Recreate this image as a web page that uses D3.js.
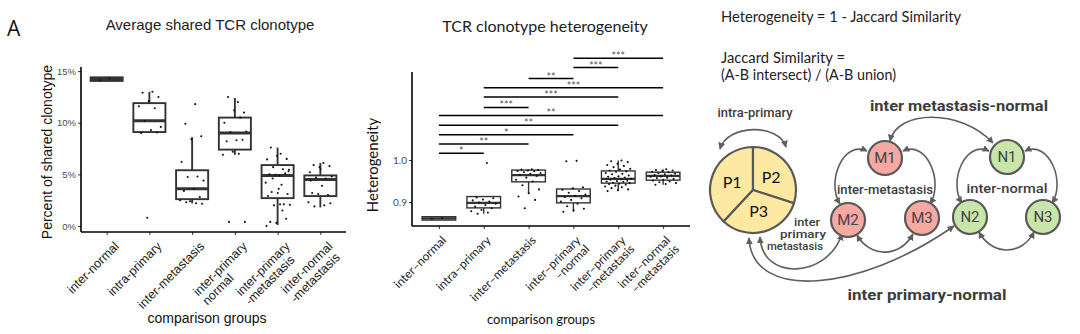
<!DOCTYPE html>
<html>
<head>
<meta charset="utf-8">
<script src="https://cdn.jsdelivr.net/npm/d3@7"></script>
<style>
  body { margin: 0; background: #fff; }
  svg { display: block; }
</style>
</head>
<body>
<svg id="fig" width="1080" height="334"></svg>
<script>
// ---------- Panel 1: average shared TCR clonotype (percent) ----------
const sharedGroups = ["inter-normal", "intra-primary", "inter-metastasis",
  "inter-primary\nnormal", "inter-primary\n-metastasis", "inter-normal\n-metastasis"];
const sharedLow    = [14.0, 9.0, 2.2, 6.9, 0.1, 1.8];
const sharedQ1     = [14.05, 9.1, 2.6, 7.4, 2.7, 2.9];
const sharedMedian = [14.2, 10.2, 3.6, 9.0, 4.9, 4.5];
const sharedQ3     = [14.4, 11.9, 5.4, 10.5, 5.9, 4.9];
const sharedHigh   = [14.45, 13.0, 8.6, 12.4, 7.6, 6.1];
const sharedPoints = [
  [14.3, 14.1],
  [13.0, 12.9, 12.5, 12.1, 11.6, 11.4, 10.2, 9.6, 9.3, 9.0, 9.05, 0.8],
  [11.8, 9.9, 8.7, 8.4, 6.2, 4.8, 4.75, 4.4, 3.6, 3.4, 2.8, 2.4, 2.5, 2.2, 2.3, 2.15],
  [12.0, 12.5, 11.0, 11.2, 10.0, 10.5, 9.1, 9.15, 8.3, 8.2, 8.35, 7.2, 6.9, 7.0, 0.4, 0.4],
  [7.0, 7.6, 6.5, 6.8, 6.45, 5.5, 5.7, 5.45, 4.9, 5.0, 5.1, 4.95, 4.2, 4.0, 3.3, 3.1,
   3.2, 2.9, 2.1, 2.0, 2.05, 2.1, 0.4, 0.7, 0.3, 0.0, 1.5, 4.6, 5.3, 3.6],
  [6.1, 5.9, 5.8, 5.7, 5.2, 4.6, 4.7, 4.8, 3.9, 3.2, 3.0, 3.1, 2.3, 2.0, 1.9, 2.2, 5.5, 4.4]
];
const sharedTicks = [0, 5, 10, 15];

// ---------- Panel 2: TCR clonotype heterogeneity ----------
const hetGroups = ["inter\u2013normal", "intra\u2013primary", "inter\u2013metastasis",
  "inter\u2013primary\n\u2013normal", "inter\u2013primary\n\u2013metastasis", "inter\u2013normal\n\u2013metastasis"];
const hetLow    = [0.857, 0.872, 0.921, 0.877, 0.926, 0.941];
const hetQ1     = [0.857, 0.886, 0.948, 0.898, 0.945, 0.952];
const hetMedian = [0.861, 0.898, 0.964, 0.914, 0.955, 0.962];
const hetQ3     = [0.865, 0.913, 0.976, 0.931, 0.974, 0.971];
const hetHigh   = [0.865, 0.913, 0.978, 0.935, 0.999, 0.978];
const hetPoints = [
  [0.862, 0.860],
  [0.993, 0.911, 0.909, 0.906, 0.904, 0.901, 0.899, 0.896, 0.893, 0.889, 0.885, 0.881, 0.878, 0.875, 0.872],
  [0.978, 0.977, 0.976, 0.975, 0.974, 0.973, 0.971, 0.969, 0.967, 0.965, 0.962, 0.958,
   0.953, 0.949, 0.940, 0.930, 0.921, 0.913, 0.905, 0.885],
  [0.998, 0.997, 0.935, 0.932, 0.929, 0.926, 0.922, 0.918, 0.915, 0.912, 0.909, 0.905,
   0.901, 0.896, 0.890, 0.884, 0.880, 0.877],
  [0.999, 0.997, 0.995, 0.991, 0.988, 0.986, 0.983, 0.979, 0.977, 0.975, 0.973, 0.972,
   0.969, 0.967, 0.966, 0.963, 0.961, 0.960, 0.958, 0.957, 0.955, 0.954, 0.953, 0.951,
   0.950, 0.949, 0.948, 0.946, 0.945, 0.944, 0.943, 0.941, 0.939, 0.937, 0.935, 0.933,
   0.930, 0.928, 0.926],
  [0.978, 0.976, 0.975, 0.974, 0.972, 0.971, 0.969, 0.968, 0.966, 0.964, 0.963, 0.961,
   0.960, 0.958, 0.957, 0.955, 0.953, 0.951, 0.949, 0.947, 0.945, 0.943, 0.941]
];
const hetTicks = [0.9, 1.0];

// pairwise significance brackets (group indices, label, bracket height)
const sigFrom  = [0, 0, 0, 0, 0, 1, 1, 1, 2, 3, 3];
const sigTo    = [1, 2, 3, 4, 5, 2, 4, 5, 3, 4, 5];
const sigLabel = ["*", "**", "*", "**", "**", "***", "***", "***", "**", "***", "***"];
const sigLevel = [1.016, 1.038, 1.060, 1.083, 1.106, 1.125, 1.150, 1.172, 1.194, 1.220, 1.242];

// ---------- Panel 3: schematic ----------
const pieSlices = ["P1", "P2", "P3"];
const metNodes = ["M1", "M2", "M3"];
const norNodes = ["N1", "N2", "N3"];

const svg = d3.select("#fig");

// deterministic horizontal spread for jittered points
const spread = i => (((i + 1) * 0.6180339887) % 1) - 0.5;

function boxPanel(cfg) {
  const g = svg.append("g");
  const x = d3.scalePoint().domain(cfg.groups).range([cfg.x0, cfg.x1]).padding(0.6);
  const y = d3.scaleLinear().domain(cfg.domain).range([cfg.y1, cfg.y0]);
  const step = x.step();
  const bw = step * 0.75;

  // boxes
  cfg.groups.forEach((grp, i) => {
    const cx = x(grp);
    g.append("line").attr("x1", cx).attr("x2", cx)
      .attr("y1", y(cfg.q3[i])).attr("y2", y(cfg.high[i]))
      .attr("stroke", "#333").attr("stroke-width", cfg.sw);
    g.append("line").attr("x1", cx).attr("x2", cx)
      .attr("y1", y(cfg.q1[i])).attr("y2", y(cfg.low[i]))
      .attr("stroke", "#333").attr("stroke-width", cfg.sw);
    g.append("rect").attr("x", cx - bw / 2).attr("width", bw)
      .attr("y", y(cfg.q3[i])).attr("height", Math.max(0.5, y(cfg.q1[i]) - y(cfg.q3[i])))
      .attr("fill", "#fff").attr("stroke", "#333").attr("stroke-width", cfg.sw);
    g.append("line").attr("x1", cx - bw / 2).attr("x2", cx + bw / 2)
      .attr("y1", y(cfg.median[i])).attr("y2", y(cfg.median[i]))
      .attr("stroke", "#333").attr("stroke-width", cfg.msw);
  });

  // jittered observations
  cfg.groups.forEach((grp, i) => {
    g.selectAll(null).data(cfg.points[i]).join("circle")
      .attr("cx", (d, k) => x(grp) + spread(k) * 2 * cfg.jitter * step)
      .attr("cy", d => y(d))
      .attr("r", 1.05).attr("fill", "#111");
  });

  // axes
  const yAxis = d3.axisLeft(y).tickValues(cfg.ticks).tickFormat(cfg.fmt).tickSize(3).tickPadding(2);
  const ya = g.append("g").attr("transform", `translate(${cfg.x0},0)`).call(yAxis);
  ya.select(".domain").remove();
  ya.selectAll(".tick line").attr("stroke", "#333").attr("stroke-width", 1);
  ya.selectAll(".tick text").attr("fill", "#4d4d4d").style("font-family", cfg.font)
    .style("font-size", cfg.tickSize + "px");

  const xAxis = d3.axisBottom(x).tickSize(3).tickFormat("");
  const xa = g.append("g").attr("transform", `translate(0,${cfg.y1})`).call(xAxis);
  xa.select(".domain").remove();
  xa.selectAll(".tick line").attr("stroke", "#333").attr("stroke-width", 1);

  g.append("line").attr("x1", cfg.x0).attr("x2", cfg.x0).attr("y1", cfg.y0).attr("y2", cfg.y1)
    .attr("stroke", "#000").attr("stroke-width", 1.6);
  g.append("line").attr("x1", cfg.x0).attr("x2", cfg.x1).attr("y1", cfg.y1).attr("y2", cfg.y1)
    .attr("stroke", "#000").attr("stroke-width", 1.6);

  // rotated category labels
  cfg.groups.forEach(grp => {
    const lines = grp.split("\n");
    const lg = g.append("g")
      .attr("transform", `translate(${x(grp) + cfg.lblDx},${cfg.y1 + cfg.lblDy}) rotate(-45)`);
    const texts = lines.map((ln, k) => lg.append("text").attr("y", k * cfg.lineH)
      .style("font-family", cfg.font).style("font-size", cfg.lblSize + "px")
      .attr("fill", "#222").text(ln));
    const widths = texts.map(t => t.node().getComputedTextLength());
    const maxW = d3.max(widths);
    texts.forEach(t => {
      if (cfg.align === "left") t.attr("x", -maxW).attr("text-anchor", "start");
      else t.attr("x", 0).attr("text-anchor", "end");
    });
  });

  return { g, x, y };
}

// ----- Panel 1 -----
const p1 = boxPanel({
  groups: sharedGroups, low: sharedLow, q1: sharedQ1, median: sharedMedian, q3: sharedQ3,
  high: sharedHigh, points: sharedPoints, ticks: sharedTicks, fmt: d => d + "%",
  domain: [-0.58, 15.4], x0: 81, x1: 346, y0: 67, y1: 232,
  sw: 1.9, msw: 3, jitter: 0.3, font: "Liberation Sans, Arial, sans-serif",
  tickSize: 9.5, lblSize: 12.5, lblDx: 13, lblDy: 15, lineH: 13, align: "left"
});

svg.append("text").attr("x", 7).attr("y", 36).text("A")
  .style("font-family", "Open Sans, sans-serif").style("font-size", "21px").attr("fill", "#111");
svg.append("text").attr("x", 210).attr("y", 30).attr("text-anchor", "middle")
  .text("Average shared TCR clonotype")
  .style("font-family", "Liberation Sans, Arial, sans-serif").style("font-size", "15px").attr("fill", "#222");
svg.append("text").attr("transform", "translate(52,152) rotate(-90)").attr("text-anchor", "middle")
  .text("Percent of shared clonotype")
  .style("font-family", "Liberation Sans, Arial, sans-serif").style("font-size", "14px").attr("fill", "#111");
svg.append("text").attr("x", 207).attr("y", 323).attr("text-anchor", "middle")
  .text("comparison groups")
  .style("font-family", "Liberation Sans, Arial, sans-serif").style("font-size", "14px").attr("fill", "#111");

// ----- Panel 2 -----
const p2 = boxPanel({
  groups: hetGroups, low: hetLow, q1: hetQ1, median: hetMedian, q3: hetQ3,
  high: hetHigh, points: hetPoints, ticks: hetTicks, fmt: d3.format(".1f"),
  domain: [0.8429, 1.2095], x0: 412, x1: 690, y0: 72, y1: 226,
  sw: 1.4, msw: 2.2, jitter: 0.3, font: "Lato, sans-serif",
  tickSize: 10, lblSize: 12, lblDx: 8, lblDy: 15, lineH: 12.5, align: "right"
});

sigFrom.forEach((a, i) => {
  const xa = p2.x(hetGroups[a]), xb = p2.x(hetGroups[sigTo[i]]), yy = p2.y(sigLevel[i]);
  p2.g.append("line").attr("x1", xa).attr("x2", xb).attr("y1", yy).attr("y2", yy)
    .attr("stroke", "#000").attr("stroke-width", 1.5);
  p2.g.append("text").attr("x", (xa + xb) / 2).attr("y", yy + 2).attr("text-anchor", "middle")
    .text(sigLabel[i]).style("font-family", "Lato, sans-serif").style("font-size", "10.5px")
    .attr("fill", "#555");
});

svg.append("text").attr("x", 545).attr("y", 32).attr("text-anchor", "middle")
  .text("TCR clonotype heterogeneity")
  .style("font-family", "Lato, sans-serif").style("font-size", "16px").attr("fill", "#222");
svg.append("text").attr("transform", "translate(378,165) rotate(-90)").attr("text-anchor", "middle")
  .text("Heterogeneity")
  .style("font-family", "Lato, sans-serif").style("font-size", "15px").attr("fill", "#111");
svg.append("text").attr("x", 541).attr("y", 324).attr("text-anchor", "middle")
  .text("comparison groups")
  .style("font-family", "Lato, sans-serif").style("font-size", "13px").attr("fill", "#111");

// ----- Panel 3: Jaccard schematic -----
const d3g = svg.append("g");
const defs = svg.append("defs");
defs.append("marker").attr("id", "head").attr("viewBox", "0 0 10 10")
  .attr("refX", 9).attr("refY", 5).attr("markerWidth", 7).attr("markerHeight", 7)
  .attr("markerUnits", "userSpaceOnUse").attr("orient", "auto-start-reverse")
  .append("path").attr("d", "M0,0L10,5L0,10z").attr("fill", "#5f5f5f");

const note = (txt, x, y, w, size) => d3g.append("text").attr("x", x).attr("y", y).text(txt)
  .attr("textLength", w).attr("lengthAdjust", "spacingAndGlyphs")
  .style("font-family", "Lato, sans-serif").style("font-size", size + "px").attr("fill", "#222");
note("Heterogeneity = 1 - Jaccard Similarity", 721, 22, 240, 14.5);
note("Jaccard Similarity =", 721, 63, 124, 14.5);
note("(A-B intersect) / (A-B union)", 721, 80, 175, 14.5);

// curved double-headed connectors
const links = [
  [[720, 149], [727, 124], [779, 123], [786, 147]],
  [[867, 151], [843, 140], [826, 182], [840, 204]],
  [[903, 151], [927, 140], [944, 182], [930, 204]],
  [[857, 235], [870, 258], [900, 258], [913, 234]],
  [[989, 151], [965, 140], [948, 182], [962, 203]],
  [[1025, 151], [1049, 140], [1066, 182], [1052, 203]],
  [[979, 232], [992, 256], [1022, 256], [1034, 232]],
  [[890, 141], [897, 110], [960, 108], [993, 143]],
  [[760, 237], [762, 282], [828, 278], [842, 234]],
  [[749, 238], [752, 302], [860, 292], [954, 226]]
];
links.forEach(p => {
  const path = d3.path();
  path.moveTo(p[0][0], p[0][1]);
  path.bezierCurveTo(p[1][0], p[1][1], p[2][0], p[2][1], p[3][0], p[3][1]);
  d3g.append("path").attr("d", path.toString()).attr("fill", "none")
    .attr("stroke", "#5f5f5f").attr("stroke-width", 1.6)
    .attr("marker-start", "url(#head)").attr("marker-end", "url(#head)");
});

// primary tumour pie
const pieCenter = [753, 190], pieR = 43;
const sliceSpan = [137, 108, 115];
const pieLayout = d3.pie().sort(null).value((d, i) => sliceSpan[i])
  .startAngle(-137 * Math.PI / 180).endAngle(223 * Math.PI / 180);
const arcs = pieLayout(pieSlices);
const arcGen = d3.arc().innerRadius(0).outerRadius(pieR);
const labelArc = d3.arc().innerRadius(pieR * 0.52).outerRadius(pieR * 0.52);
const pg = d3g.append("g").attr("transform", `translate(${pieCenter})`);
pg.selectAll("path").data(arcs).join("path").attr("d", arcGen)
  .attr("fill", "#fde9a2").attr("stroke", "#595959").attr("stroke-width", 2.2);
pg.selectAll("text").data(arcs).join("text")
  .attr("transform", d => `translate(${labelArc.centroid(d)})`)
  .attr("text-anchor", "middle").attr("dy", "0.36em").text(d => d.data)
  .style("font-family", "Lato, sans-serif").style("font-size", "16px").attr("fill", "#111");

// metastasis and normal sample nodes
const nodePos = { M1: [885, 158], M2: [848, 220], M3: [922, 218], N1: [1007, 157], N2: [970, 217], N3: [1043, 217] };
const drawNodes = (names, fill) => names.forEach(n => {
  d3g.append("circle").attr("cx", nodePos[n][0]).attr("cy", nodePos[n][1]).attr("r", 17)
    .attr("fill", fill).attr("stroke", "#595959").attr("stroke-width", 2.2);
  d3g.append("text").attr("x", nodePos[n][0]).attr("y", nodePos[n][1]).attr("dy", "0.36em")
    .attr("text-anchor", "middle").text(n)
    .style("font-family", "Roboto, sans-serif").style("font-size", "15px").attr("fill", "#444");
});
drawNodes(metNodes, "#f5a9a2");
drawNodes(norNodes, "#c8e6aa");

const tag = (txt, x, y, w, size, weight, anchor) => d3g.append("text").attr("x", x).attr("y", y)
  .attr("text-anchor", anchor || "middle").text(txt)
  .attr("textLength", w).attr("lengthAdjust", "spacingAndGlyphs")
  .style("font-family", "Roboto, sans-serif").style("font-size", size + "px")
  .style("font-weight", weight).attr("fill", "#3c3c3c");
tag("intra-primary", 755, 117, 75, 13.5, 500);
tag("inter metastasis-normal", 959, 111, 178, 15, 700);
tag("inter-metastasis", 885, 194, 96, 13.5, 500);
tag("inter-normal", 1007, 193, 81, 13.5, 500);
tag("inter primary-normal", 927, 300, 159, 15.5, 700);
tag("inter", 820, 226, 26, 10.5, 500, "end");
tag("primary", 826, 238, 46, 10.5, 500, "end");
tag("metastasis", 823, 250, 56, 10.5, 500, "end");
</script>
</body>
</html>
